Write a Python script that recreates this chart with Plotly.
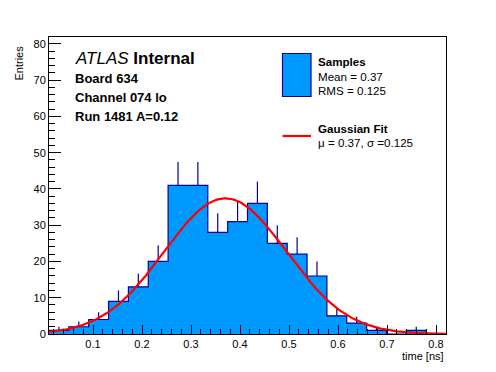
import numpy as np
import plotly.graph_objects as go

# ---- data ----
bin_low = 0.0102
bin_high = 0.8204
n_bins = 20
counts = [1, 2, 4, 9, 13, 20, 41, 41, 28, 31, 36, 25, 22, 16, 5, 3, 1, 0, 1, 0]
fit_amplitude = 37.4
fit_mu = 0.37
fit_sigma = 0.125
x_ticks = [0.1, 0.2, 0.3, 0.4, 0.5, 0.6, 0.7, 0.8]
y_ticks = [0, 10, 20, 30, 40, 50, 60, 70, 80]

edges = np.linspace(bin_low, bin_high, n_bins + 1)
centers = 0.5 * (edges[:-1] + edges[1:])
cnt = np.array(counts, dtype=float)

FILL = "rgb(0,153,255)"
EDGE = "rgb(0,0,153)"
FONT = "Liberation Sans, Arial, sans-serif"

fig = go.Figure()

# filled step histogram with outline
fig.add_trace(go.Scatter(
    x=list(edges), y=list(cnt) + [cnt[-1]],
    mode="lines", line=dict(shape="hv", color=EDGE, width=1.2),
    fill="tozeroy", fillcolor=FILL, hoverinfo="skip", showlegend=False))

# upper error bars (sqrt N)
nz = cnt > 0
fig.add_trace(go.Scatter(
    x=centers[nz], y=cnt[nz], mode="markers",
    marker=dict(size=1, opacity=0),
    error_y=dict(type="data", symmetric=False, array=np.sqrt(cnt[nz]),
                 arrayminus=np.zeros(nz.sum()), width=0, color=EDGE, thickness=1.2),
    showlegend=False, hoverinfo="skip"))

# gaussian fit curve
xf = np.linspace(bin_low, bin_high, 300)
yf = fit_amplitude * np.exp(-0.5 * ((xf - fit_mu) / fit_sigma) ** 2)
fig.add_trace(go.Scatter(x=xf, y=yf, mode="lines",
                         line=dict(color="rgb(255,0,0)", width=2.2),
                         showlegend=False, hoverinfo="skip"))

axis_common = dict(showline=True, linecolor="black", linewidth=1, mirror=True,
                   ticks="inside", tickcolor="black", showgrid=False, zeroline=False,
                   tickfont=dict(family=FONT, size=11, color="black"))

fig.update_xaxes(range=[bin_low, bin_high], tickvals=x_ticks,
                 ticktext=[f"{v:.1f}" for v in x_ticks], ticklen=9,
                 minor=dict(dtick=0.02, tick0=0, ticks="inside", ticklen=5, tickcolor="black"),
                 **axis_common)
fig.update_yaxes(range=[0, 81.9], tickvals=y_ticks, ticklen=12,
                 minor=dict(dtick=2, tick0=0, ticks="inside", ticklen=6, tickcolor="black"),
                 **axis_common)

ann = []
def txt(x, y, s, size=13, xanchor="left", yanchor="middle", **kw):
    ann.append(dict(x=x, y=y, xref="paper", yref="paper", text=s, showarrow=False,
                    xanchor=xanchor, yanchor=yanchor,
                    font=dict(family=FONT, size=size, color="black"), **kw))

W, H = 496, 372
OFF = 8  # default page body margin
L, R, T, B = 49, 446, 37, 334
def px(xp):
    return (xp - L) / (R - L)
def py(yp):
    return (B - yp) / (B - T)

txt(px(73), py(58), "<i>ATLAS</i> <b>Internal</b>", size=17)
txt(px(73), py(78), "<b>Board 634</b>", size=13)
txt(px(73), py(97), "<b>Channel 074 lo</b>", size=13)
txt(px(73), py(116), "<b>Run 1481 A=0.12</b>", size=13)

LS = 11.6
txt(px(316), py(62), "<b>Samples</b>", size=LS)
txt(px(316), py(76.5), "Mean = 0.37", size=LS)
txt(px(316), py(90), "RMS = 0.125", size=LS)
txt(px(316), py(128.5), "<b>Gaussian Fit</b>", size=LS)
txt(px(316), py(142), "\u03bc = 0.37, \u03c3 =0.125", size=LS)

txt(px(446), py(356), "time [ns]", size=11, xanchor="right")
ann.append(dict(x=px(18), y=py(44), xref="paper", yref="paper", text="Entries",
                showarrow=False, textangle=-90, xanchor="center", yanchor="top",
                font=dict(family=FONT, size=11, color="black")))

shapes = [
    dict(type="rect", xref="paper", yref="paper", x0=px(282.5), x1=px(311),
         y0=py(96.5), y1=py(53.5), fillcolor=FILL, line=dict(color=EDGE, width=1.2)),
    dict(type="line", xref="paper", yref="paper", x0=px(282.5), x1=px(311),
         y0=py(136), y1=py(136), line=dict(color="rgb(255,0,0)", width=2.2)),
]

fig.update_layout(width=W - OFF, height=H - OFF,
                  margin=dict(l=L - OFF, r=W - R, t=T - OFF, b=H - B),
                  paper_bgcolor="white", plot_bgcolor="white",
                  annotations=ann, shapes=shapes, showlegend=False)

fig.write_html("out.html")
